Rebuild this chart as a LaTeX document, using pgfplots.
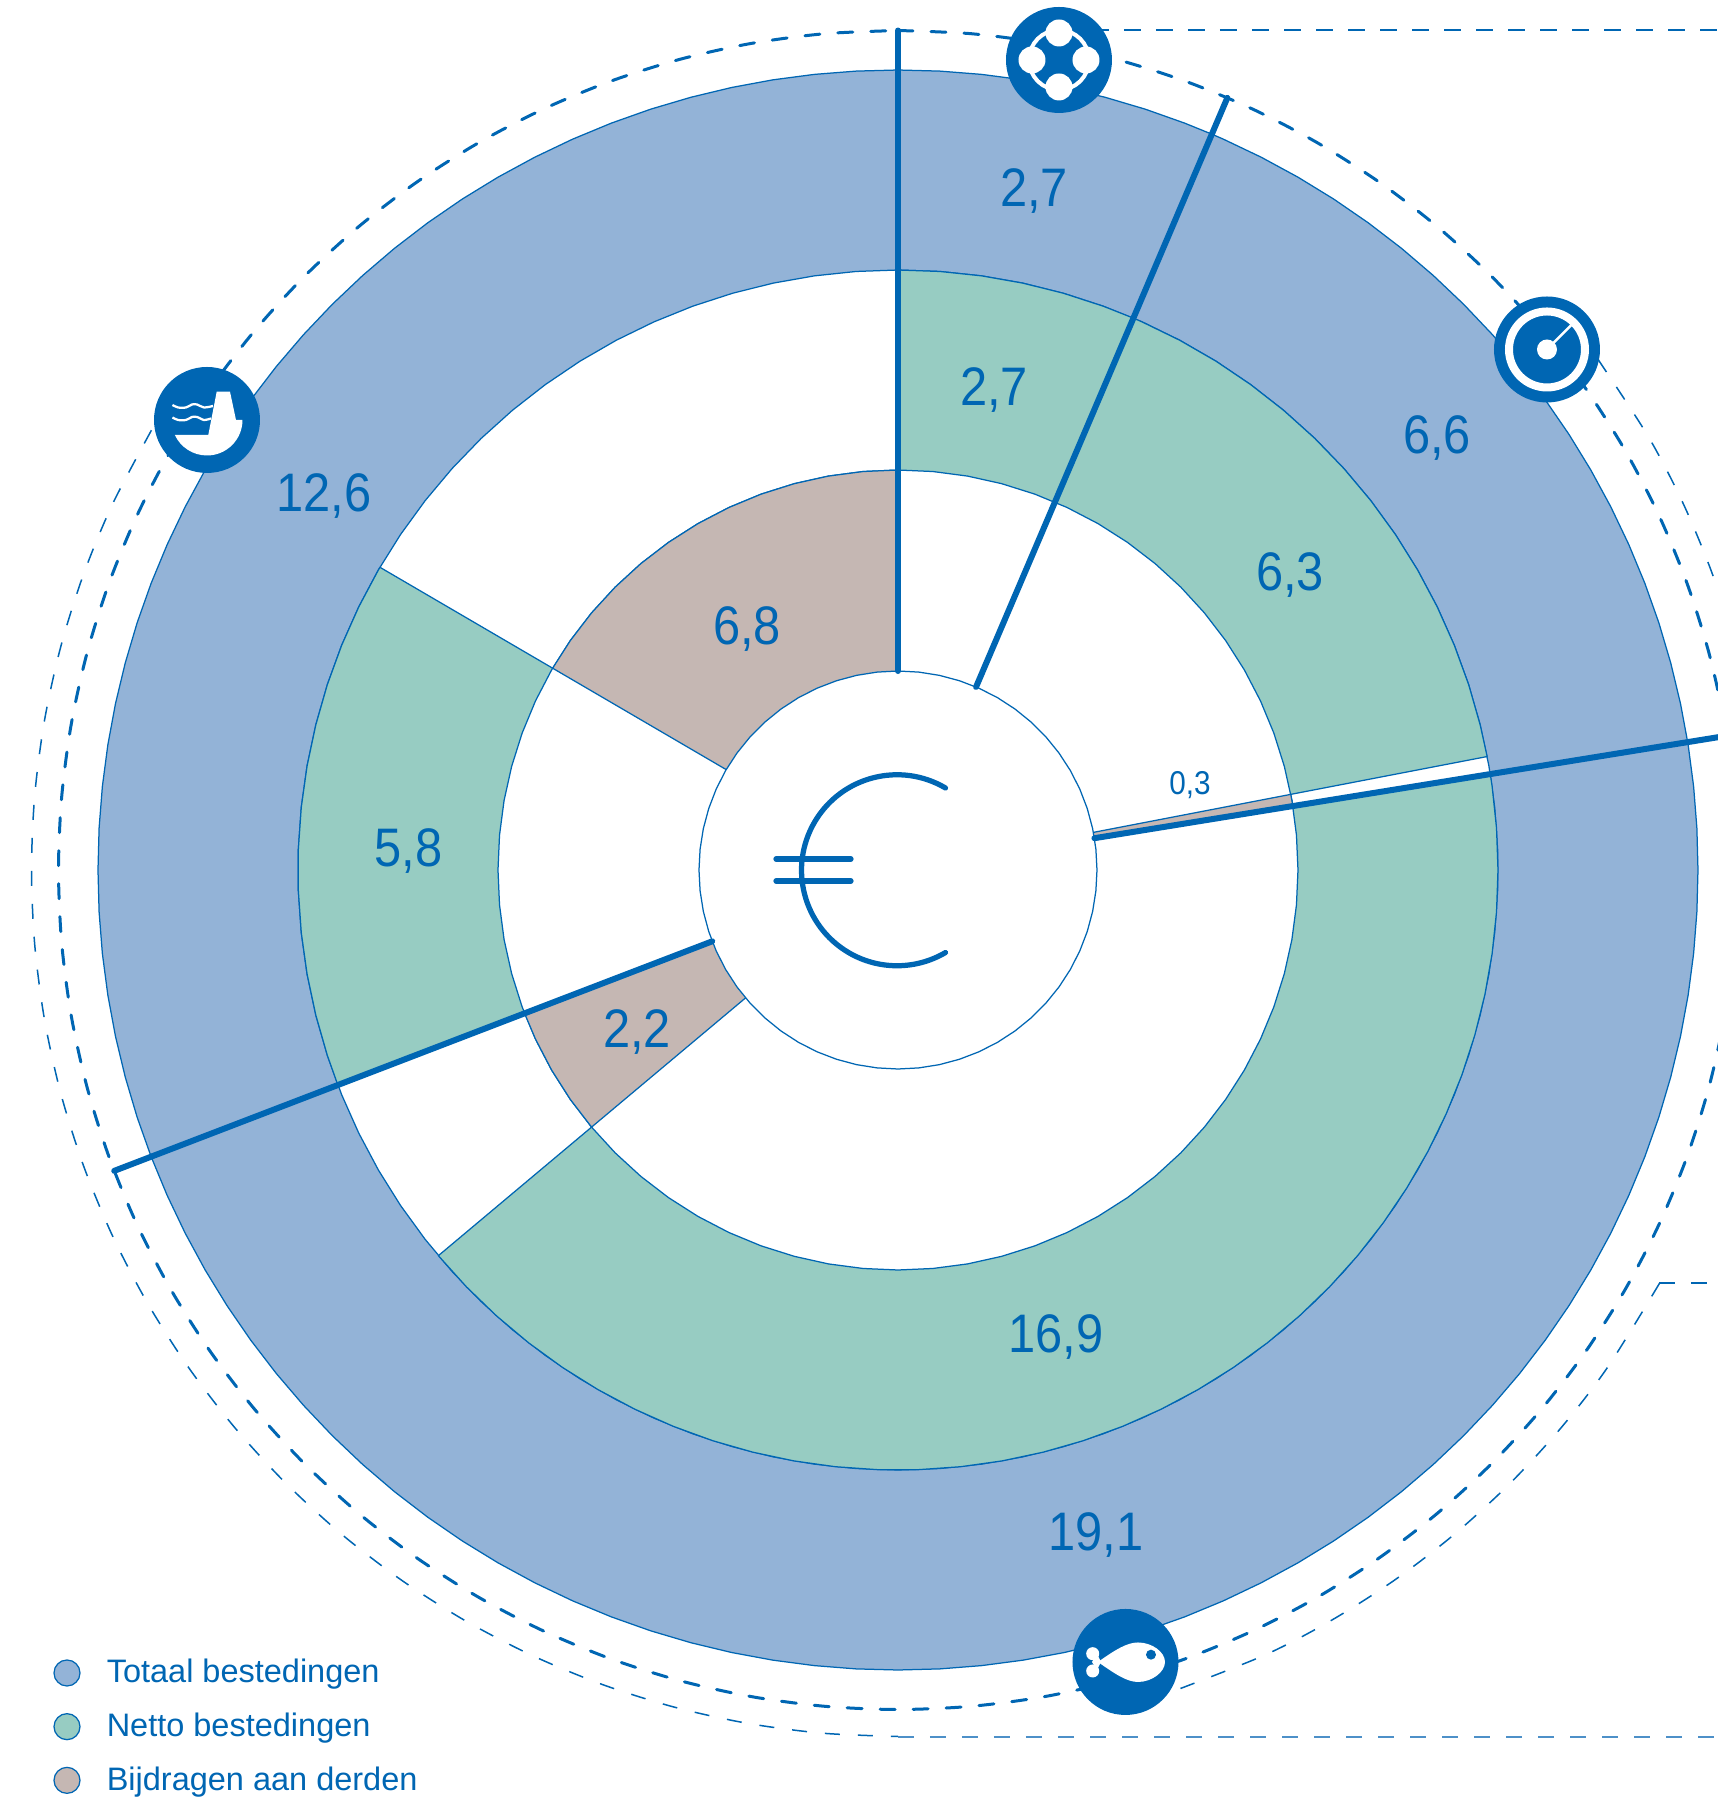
\documentclass[border=0pt]{standalone}
\usepackage{fontspec}
\usepackage{pgfplots}
\pgfplotsset{compat=1.18}
\setmainfont{Liberation Sans}
\newfontfamily\numfont[FakeStretch=0.9]{Liberation Sans}

\definecolor{lineblue}{RGB}{0,102,179}
\definecolor{lightline}{RGB}{77,144,200}
\definecolor{totaal}{RGB}{147,179,215}
\definecolor{netto}{RGB}{151,204,194}
\definecolor{derden}{RGB}{197,183,179}

% value labels, x y relative to the centre of the rings
\newcommand{\vlabel}[3]{\node[anchor=base,text=lineblue,font=\numfont\fontsize{21.7}{26}\selectfont] at (axis cs:#1,#2-19) {#3};}

\begin{document}
\begin{tikzpicture}
\path[use as bounding box] (0,0) rectangle (687.2pt,720pt);
\begin{axis}[
    scale only axis,
    width=687.2pt, height=720pt,
    xmin=-898, xmax=820,
    ymin=-930, ymax=870,
    hide axis,
    wedge/.style={data cs=polar, forget plot, draw=lineblue, line width=0.5pt, line join=round, mark=none},
    spoke/.style={data cs=polar, forget plot, draw=lineblue, line width=2.4pt, line cap=round, mark=none},
    thickdash/.style={data cs=polar, forget plot, smooth, draw=lineblue, line width=1.2pt, line cap=round, dash pattern=on 6pt off 7.2pt, mark=none},
    thindash/.style={data cs=polar, forget plot, smooth, draw=lineblue, line width=0.6pt, dash pattern=on 6pt off 7.2pt, mark=none},
    legend style={at={(axis cs:-844,-929)}, anchor=south west, draw=none, fill=none, inner sep=0pt, outer sep=0pt,
        font=\fontsize{13}{16}\selectfont, text=lineblue, row sep=6.55pt,
        /tikz/every odd column/.append style={column sep=8.7pt}},
    legend cell align=left,
]

% outer dashed circles
\addplot[thickdash] coordinates {(90,839.5)(85,839.5)(80,839.5)(75,839.5)(70,839.5)(65,839.5)(60,839.5)(55,839.5)(50,839.5)(45,839.5)(40,839.5)(35,839.5)(30,839.5)(25,839.5)(20,839.5)(15,839.5)(10,839.5)(5,839.5)(0,839.5)(-5,839.5)(-10,839.5)(-15,839.5)(-20,839.5)(-25,839.5)(-30,839.5)(-35,839.5)(-40,839.5)(-45,839.5)(-50,839.5)(-55,839.5)(-60,839.5)(-65,839.5)(-70,839.5)(-75,839.5)(-80,839.5)(-85,839.5)(-90,839.5)(-95,839.5)(-100,839.5)(-105,839.5)(-110,839.5)(-115,839.5)(-120,839.5)(-125,839.5)(-130,839.5)(-135,839.5)(-140,839.5)(-145,839.5)(-150,839.5)(-155,839.5)(-160,839.5)(-165,839.5)(-170,839.5)(-175,839.5)(-180,839.5)(-185,839.5)(-190,839.5)(-195,839.5)(-200,839.5)(-205,839.5)(-210,839.5)(-215,839.5)(-220,839.5)(-225,839.5)(-230,839.5)(-235,839.5)(-240,839.5)(-245,839.5)(-250,839.5)(-255,839.5)(-260,839.5)(-265,839.5)(-270,839.5)};
\addplot[thindash] coordinates {(36.1,866.5)(30,866.5)(25,866.5)(20,866.5)(15,866.5)};
\addplot[thindash] coordinates {(-28.5,866.5)(-35,866.5)(-40,866.5)(-45,866.5)(-50,866.5)(-55,866.5)(-60,866.5)(-65,866.5)(-72,866.5)};
\addplot[thindash] coordinates {(-210.5,866.5)(-205,866.5)(-200,866.5)(-195,866.5)(-190,866.5)(-185,866.5)(-180,866.5)(-175,866.5)(-170,866.5)(-165,866.5)(-160,866.5)(-155,866.5)(-150,866.5)(-145,866.5)(-140,866.5)(-135,866.5)(-130,866.5)(-125,866.5)(-120,866.5)(-115,866.5)(-110,866.5)(-105,866.5)(-100,866.5)(-95,866.5)(-90,866.5)};
\addplot[forget plot, mark=none, draw=lineblue, line width=0.5pt, dash pattern=on 6.8pt off 6pt] coordinates {(162,840)(820,840)};
\addplot[forget plot, mark=none, draw=lineblue, line width=0.5pt, dash pattern=on 6.4pt off 6.4pt] coordinates {(761,-413)(820,-413)};
\addplot[forget plot, mark=none, draw=lightline, line width=0.7pt, dash pattern=on 6.4pt off 6.4pt] coordinates {(0,-867)(820,-867)};

% totaal bestedingen: 2,7 / 6,6 / 19,1 / 12,6
\addplot[wedge, fill=totaal] coordinates {(0,0)(90,800)(87,800)(84,800)(81,800)(78,800)(75,800)(72,800)(69,800)(66.9,800)(0,0)};
\addplot[wedge, fill=totaal] coordinates {(0,0)(66.9,800)(66,800)(63,800)(60,800)(57,800)(54,800)(51,800)(48,800)(45,800)(42,800)(39,800)(36,800)(33,800)(30,800)(27,800)(24,800)(21,800)(18,800)(15,800)(12,800)(9.2,800)(0,0)};
\addplot[wedge, fill=totaal] coordinates {(0,0)(9.2,800)(9,800)(6,800)(3,800)(0,800)(-3,800)(-6,800)(-9,800)(-12,800)(-15,800)(-18,800)(-21,800)(-24,800)(-27,800)(-30,800)(-33,800)(-36,800)(-39,800)(-42,800)(-45,800)(-48,800)(-51,800)(-54,800)(-57,800)(-60,800)(-63,800)(-66,800)(-69,800)(-72,800)(-75,800)(-78,800)(-81,800)(-84,800)(-87,800)(-90,800)(-93,800)(-96,800)(-99,800)(-102,800)(-105,800)(-108,800)(-111,800)(-114,800)(-117,800)(-120,800)(-123,800)(-126,800)(-129,800)(-132,800)(-135,800)(-138,800)(-141,800)(-144,800)(-147,800)(-150,800)(-153,800)(-156,800)(-159,800)(0,0)};
\addplot[wedge, fill=totaal] coordinates {(0,0)(-159,800)(-162,800)(-165,800)(-168,800)(-171,800)(-174,800)(-177,800)(-180,800)(-183,800)(-186,800)(-189,800)(-192,800)(-195,800)(-198,800)(-201,800)(-204,800)(-207,800)(-210,800)(-213,800)(-216,800)(-219,800)(-222,800)(-225,800)(-228,800)(-231,800)(-234,800)(-237,800)(-240,800)(-243,800)(-246,800)(-249,800)(-252,800)(-255,800)(-258,800)(-261,800)(-264,800)(-267,800)(-270,800)(0,0)};

% white disc under the middle ring
\addplot[wedge, fill=white] coordinates {(90,600)(86,600)(82,600)(78,600)(74,600)(70,600)(66,600)(62,600)(58,600)(54,600)(50,600)(46,600)(42,600)(38,600)(34,600)(30,600)(26,600)(22,600)(18,600)(14,600)(10,600)(6,600)(2,600)(-2,600)(-6,600)(-10,600)(-14,600)(-18,600)(-22,600)(-26,600)(-30,600)(-34,600)(-38,600)(-42,600)(-46,600)(-50,600)(-54,600)(-58,600)(-62,600)(-66,600)(-70,600)(-74,600)(-78,600)(-82,600)(-86,600)(-90,600)(-94,600)(-98,600)(-102,600)(-106,600)(-110,600)(-114,600)(-118,600)(-122,600)(-126,600)(-130,600)(-134,600)(-138,600)(-142,600)(-146,600)(-150,600)(-154,600)(-158,600)(-162,600)(-166,600)(-170,600)(-174,600)(-178,600)(-182,600)(-186,600)(-190,600)(-194,600)(-198,600)(-202,600)(-206,600)(-210,600)(-214,600)(-218,600)(-222,600)(-226,600)(-230,600)(-234,600)(-238,600)(-242,600)(-246,600)(-250,600)(-254,600)(-258,600)(-262,600)(-266,600)(-270,600)};

% netto bestedingen: 2,7 / 6,3 / 16,9 / 5,8
\addplot[wedge, fill=netto] coordinates {(0,0)(90,600)(86,600)(82,600)(78,600)(74,600)(70,600)(66.9,600)(0,0)};
\addplot[wedge, fill=netto] coordinates {(0,0)(66.9,600)(66,600)(62,600)(58,600)(54,600)(50,600)(46,600)(42,600)(38,600)(34,600)(30,600)(26,600)(22,600)(18,600)(14,600)(10.9,600)(0,0)};
\addplot[wedge, fill=netto] coordinates {(0,0)(9.2,600)(8,600)(4,600)(0,600)(-4,600)(-8,600)(-12,600)(-16,600)(-20,600)(-24,600)(-28,600)(-32,600)(-36,600)(-40,600)(-44,600)(-48,600)(-52,600)(-56,600)(-60,600)(-64,600)(-68,600)(-72,600)(-76,600)(-80,600)(-84,600)(-88,600)(-92,600)(-96,600)(-100,600)(-104,600)(-108,600)(-112,600)(-116,600)(-120,600)(-124,600)(-128,600)(-132,600)(-136,600)(-140,600)(0,0)};
\addplot[wedge, fill=netto] coordinates {(0,0)(-159,600)(-162,600)(-166,600)(-170,600)(-174,600)(-178,600)(-182,600)(-186,600)(-190,600)(-194,600)(-198,600)(-202,600)(-206,600)(-210,600)(-210.3,600)(0,0)};

% white disc under the inner ring
\addplot[wedge, fill=white] coordinates {(90,400)(85,400)(80,400)(75,400)(70,400)(65,400)(60,400)(55,400)(50,400)(45,400)(40,400)(35,400)(30,400)(25,400)(20,400)(15,400)(10,400)(5,400)(0,400)(-5,400)(-10,400)(-15,400)(-20,400)(-25,400)(-30,400)(-35,400)(-40,400)(-45,400)(-50,400)(-55,400)(-60,400)(-65,400)(-70,400)(-75,400)(-80,400)(-85,400)(-90,400)(-95,400)(-100,400)(-105,400)(-110,400)(-115,400)(-120,400)(-125,400)(-130,400)(-135,400)(-140,400)(-145,400)(-150,400)(-155,400)(-160,400)(-165,400)(-170,400)(-175,400)(-180,400)(-185,400)(-190,400)(-195,400)(-200,400)(-205,400)(-210,400)(-215,400)(-220,400)(-225,400)(-230,400)(-235,400)(-240,400)(-245,400)(-250,400)(-255,400)(-260,400)(-265,400)(-270,400)};

% bijdragen aan derden: 0,3 / 2,2 / 6,8
\addplot[wedge, fill=derden] coordinates {(0,0)(10.9,400)(10,400)(9.2,400)(0,0)};
\addplot[wedge, fill=derden] coordinates {(0,0)(-140,400)(-145,400)(-150,400)(-155,400)(-159,400)(0,0)};
\addplot[wedge, fill=derden] coordinates {(0,0)(-210.3,400)(-215,400)(-220,400)(-225,400)(-230,400)(-235,400)(-240,400)(-245,400)(-250,400)(-255,400)(-260,400)(-265,400)(-270,400)(0,0)};

% centre disc
\addplot[wedge, fill=white] coordinates {(90,199)(84,199)(78,199)(72,199)(66,199)(60,199)(54,199)(48,199)(42,199)(36,199)(30,199)(24,199)(18,199)(12,199)(6,199)(0,199)(-6,199)(-12,199)(-18,199)(-24,199)(-30,199)(-36,199)(-42,199)(-48,199)(-54,199)(-60,199)(-66,199)(-72,199)(-78,199)(-84,199)(-90,199)(-96,199)(-102,199)(-108,199)(-114,199)(-120,199)(-126,199)(-132,199)(-138,199)(-144,199)(-150,199)(-156,199)(-162,199)(-168,199)(-174,199)(-180,199)(-186,199)(-192,199)(-198,199)(-204,199)(-210,199)(-216,199)(-222,199)(-228,199)(-234,199)(-240,199)(-246,199)(-252,199)(-258,199)(-264,199)(-270,199)};

% thick spokes between the sectors
\addplot[spoke] coordinates {(90,199)(90,839.5)};
\addplot[spoke] coordinates {(66.9,199)(66.9,839.5)};
\addplot[spoke] coordinates {(9.2,199)(9.2,1000)};
\addplot[spoke] coordinates {(-159,199)(-159,839.5)};

% legend
\addlegendimage{only marks, mark=*, mark size=5.2pt, mark options={fill=totaal, draw=lineblue, line width=0.5pt}}
\addlegendentry{Totaal bestedingen}
\addlegendimage{only marks, mark=*, mark size=5.2pt, mark options={fill=netto, draw=lineblue, line width=0.5pt}}
\addlegendentry{Netto bestedingen}
\addlegendimage{only marks, mark=*, mark size=5.2pt, mark options={fill=derden, draw=lineblue, line width=0.5pt}}
\addlegendentry{Bijdragen aan derden}

\vlabel{136}{683}{2,7}
\vlabel{96}{484}{2,7}
\vlabel{539}{436}{6,6}
\vlabel{392}{298.5}{6,3}
\vlabel{-574}{378}{12,6}
\vlabel{-151}{245}{6,8}
\vlabel{-489.5}{23}{5,8}
\vlabel{-261}{-158}{2,2}
\vlabel{158}{-463.5}{16,9}
\vlabel{198}{-662}{19,1}
\node[anchor=base,text=lineblue,font=\numfont\fontsize{13.2}{16}\selectfont] at (axis cs:292,76) {0,3};
\end{axis}

% icons, in pixel positions of the picture
\begin{scope}[shift={(0pt,720pt)}, x=0.4pt, y=-0.4pt]
% euro sign
\draw[lineblue, line width=2.1pt, line cap=round] (945.5,788) arc[start angle=-59.5, end angle=-300.5, radius=95.5];
\draw[lineblue, line width=2.1pt, line cap=round] (776,859) -- (851,859) (776,881) -- (851,881);

% lifebuoy
\fill[lineblue] (1059,60) circle[radius=53];
\draw[white, line width=1.6pt] (1059,60) circle[radius=30];
\fill[white] (1059,33) circle[radius=13.5] (1059,87) circle[radius=13.5] (1032,60) circle[radius=13.5] (1086,60) circle[radius=13.5];

% gauge
\fill[lineblue] (1547,349.5) circle[radius=53];
\draw[white, line width=3.2pt] (1547,349.5) circle[radius=38];
\fill[white] (1547,349.5) circle[radius=10];
\draw[white, line width=1pt] (1547,349.5) -- (1571.5,325);

% dam with water
\fill[lineblue] (207,420) circle[radius=53];
\fill[white] (175,435) -- (208.3,435) -- (216.7,391.7) -- (230,391.7) -- (236,420) -- (242.5,420) arc[start angle=0, end angle=155, radius=35.5] -- cycle;
\draw[white, line width=0.9pt] plot[smooth] coordinates {(172.5,405) (178,407.5) (186,407.5) (192,404.5) (197,404.5) (204,407.5) (213,406)};
\draw[white, line width=0.9pt] plot[smooth] coordinates {(172.5,417.5) (178,420) (186,420) (192,417) (197,417) (204,420) (211,418.5)};

% fish
\fill[lineblue] (1125.5,1662) circle[radius=53];
\fill[white] (1098,1662) .. controls (1115,1650) and (1127,1642.5) .. (1138,1642.5) .. controls (1152,1642.5) and (1165,1652) .. (1165,1662) .. controls (1165,1672) and (1152,1682) .. (1138,1682) .. controls (1127,1682) and (1115,1674) .. cycle;
\fill[white] (1092.7,1653.7) circle[radius=6.5] (1092.7,1671) circle[radius=6.5];
\fill[white] (1092,1662) -- (1097,1654) -- (1101,1662) -- (1097,1670) -- cycle;
\fill[lineblue] (1151,1654.7) circle[radius=5];
\end{scope}
\end{tikzpicture}
\end{document}
